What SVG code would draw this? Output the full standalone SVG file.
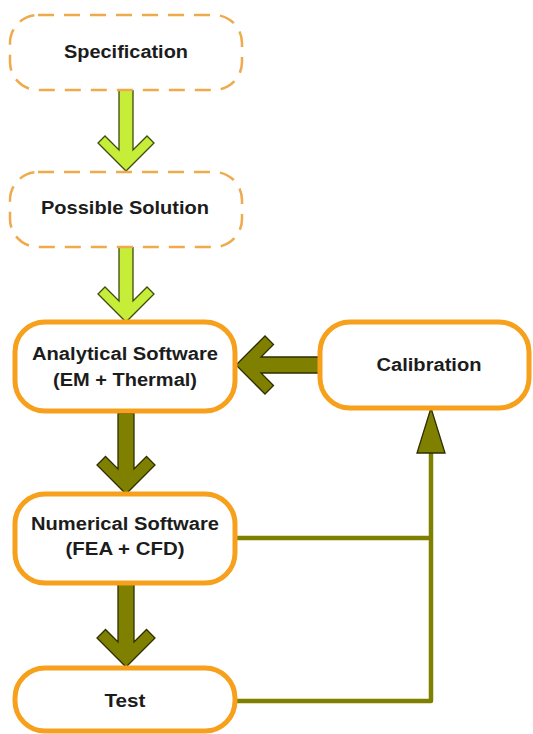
<svg xmlns="http://www.w3.org/2000/svg" width="533" height="734" viewBox="0 0 533 734">
<style>
.dash{fill:#fff;stroke:#EFAA4C;stroke-width:2.5;stroke-dasharray:16 10}
.box{fill:#fff;stroke:#F7A01C;stroke-width:5}
.t{font-family:"Liberation Sans",Arial,sans-serif;font-weight:bold;font-size:18px;fill:#1c1c1c;text-anchor:middle}
.lime{fill:#C6EE38;stroke:#3d4a10;stroke-width:1.3;stroke-linejoin:miter}
.olive{fill:#7F7F00;stroke:#2e2e00;stroke-width:1.3;stroke-linejoin:miter}
.line{fill:none;stroke:#808000;stroke-width:4.5;stroke-linejoin:round}
</style>
<rect width="533" height="734" fill="#fff"/>
<g id="connectors">
<polygon class="lime" points="119,90 133,90 133,150 147,136 154,143 126,171 98,143 105,136 119,150"/>
<polygon class="lime" points="119,247 133,247 133,301 147,287 154,294 126,322 98,294 105,287 119,301"/>
<polygon class="olive" points="118,413 134,413 134,469 146.5,456.5 155,465 126,494 97,465 105.5,456.5 118,469"/>
<polygon class="olive" points="118,584 134,584 134,642 146.5,629.5 155,638 126,667 97,638 105.5,629.5 118,642"/>
<polygon class="olive" points="320,357 320,373 261,373 273.5,385.5 265,394 236,365 265,336 273.5,344.5 261,357"/>
<polyline class="line" points="235,538 431,538"/>
<polyline class="line" points="235,701 431,701 431,452"/>
<polygon class="olive" points="431,408 445,453 417,453"/>
</g>
<g id="specification">
<rect class="dash" x="10" y="15" width="232" height="75" rx="28"/>
<text class="t" x="126" y="58" textLength="124" lengthAdjust="spacingAndGlyphs">Specification</text>
</g>
<g id="possible-solution">
<rect class="dash" x="10" y="172" width="232" height="75" rx="28"/>
<text class="t" x="125" y="214" textLength="168" lengthAdjust="spacingAndGlyphs">Possible Solution</text>
</g>
<g id="analytical">
<rect class="box" x="15" y="322" width="220" height="89" rx="30"/>
<text class="t" x="125" y="360" textLength="186" lengthAdjust="spacingAndGlyphs">Analytical Software</text>
<text class="t" x="125" y="386" textLength="144" lengthAdjust="spacingAndGlyphs">(EM + Thermal)</text>
</g>
<g id="calibration">
<rect class="box" x="320" y="322" width="209" height="86" rx="30"/>
<text class="t" x="429" y="371" textLength="105" lengthAdjust="spacingAndGlyphs">Calibration</text>
</g>
<g id="numerical">
<rect class="box" x="15" y="494" width="220" height="89" rx="30"/>
<text class="t" x="125" y="530" textLength="188" lengthAdjust="spacingAndGlyphs">Numerical Software</text>
<text class="t" x="125" y="555" textLength="119" lengthAdjust="spacingAndGlyphs">(FEA + CFD)</text>
</g>
<g id="test">
<rect class="box" x="15" y="668" width="220" height="63" rx="30"/>
<text class="t" x="125" y="707" textLength="41" lengthAdjust="spacingAndGlyphs">Test</text>
</g>
</svg>
